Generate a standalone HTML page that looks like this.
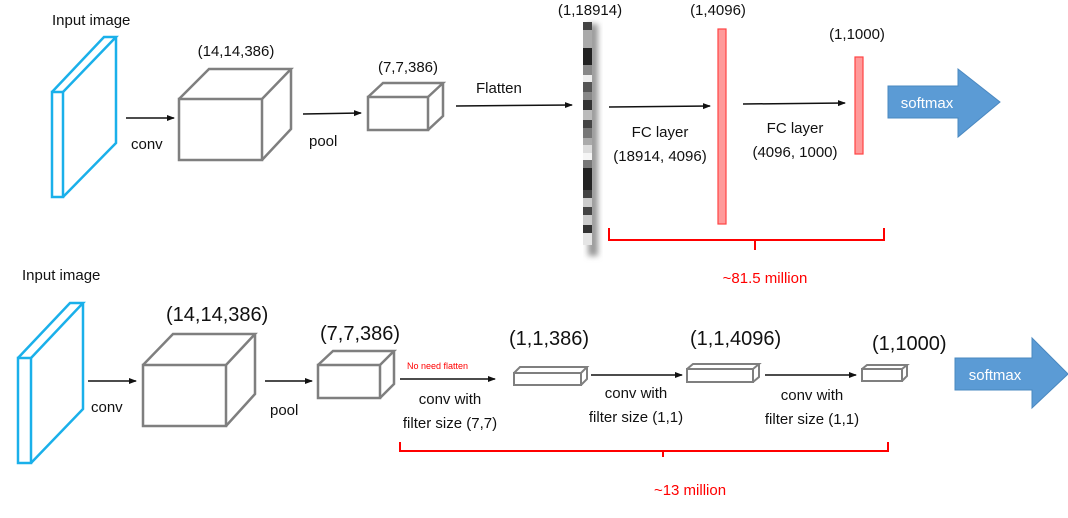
<!DOCTYPE html>
<html><head><meta charset="utf-8"><style>
html,body{margin:0;padding:0;background:#fff;}
svg{display:block;}
text{font-family:"Liberation Sans",sans-serif;fill:#111;}
</style></head><body>
<svg width="1068" height="518" viewBox="0 0 1068 518" xmlns="http://www.w3.org/2000/svg">
<defs>
<marker id="ah" markerWidth="8" markerHeight="8" refX="7" refY="4" orient="auto" markerUnits="userSpaceOnUse">
<path d="M0,1 L8,4 L0,7 z" fill="#111"/></marker>
<filter id="bl" x="-50%" y="-10%" width="200%" height="120%"><feGaussianBlur stdDeviation="3"/></filter>
</defs>

<!-- TOP ROW -->
<text x="52" y="25" font-size="15">Input image</text>
<g fill="none" stroke="#1ab0ea" stroke-width="2.5">
<rect x="52" y="92" width="11" height="105"/>
<path d="M52,92 L104,37 L116,37 L63,92 M116,37 L116,143 L63,197"/>
</g>
<line x1="126" y1="118" x2="174" y2="118" stroke="#111" stroke-width="1.5" marker-end="url(#ah)"/>
<text x="131" y="149" font-size="15">conv</text>
<g fill="none" stroke="#7f7f7f" stroke-width="2.5">
<rect x="179" y="99" width="83" height="61"/>
<path d="M179,99 L209,69 L291,69 L262,99 M291,69 L291,129 L262,160"/>
</g>
<text x="236" y="56" font-size="15" text-anchor="middle">(14,14,386)</text>
<line x1="303" y1="114" x2="361" y2="113" stroke="#111" stroke-width="1.5" marker-end="url(#ah)"/>
<text x="309" y="146" font-size="15">pool</text>
<g fill="none" stroke="#7f7f7f" stroke-width="2.5">
<rect x="368" y="97" width="60" height="33"/>
<path d="M368,97 L383,83 L443,83 L428,97 M443,83 L443,116 L428,130"/>
</g>
<text x="408" y="72" font-size="15" text-anchor="middle">(7,7,386)</text>
<text x="476" y="93" font-size="15">Flatten</text>
<line x1="456" y1="106" x2="572" y2="105" stroke="#111" stroke-width="1.5" marker-end="url(#ah)"/>

<!-- flatten strip -->
<rect x="588" y="24" width="10" height="232" fill="#999" filter="url(#bl)"/>
<g>
<rect x="583" y="22" width="9" height="8" fill="#444"/>
<rect x="583" y="30" width="9" height="18" fill="#aaa"/>
<rect x="583" y="48" width="9" height="17" fill="#222"/>
<rect x="583" y="65" width="9" height="10" fill="#888"/>
<rect x="583" y="75" width="9" height="7" fill="#eee"/>
<rect x="583" y="82" width="9" height="10" fill="#555"/>
<rect x="583" y="92" width="9" height="8" fill="#888"/>
<rect x="583" y="100" width="9" height="10" fill="#333"/>
<rect x="583" y="110" width="9" height="10" fill="#bbb"/>
<rect x="583" y="120" width="9" height="8" fill="#444"/>
<rect x="583" y="128" width="9" height="10" fill="#777"/>
<rect x="583" y="138" width="9" height="7" fill="#aaa"/>
<rect x="583" y="145" width="9" height="8" fill="#ddd"/>
<rect x="583" y="153" width="9" height="7" fill="#f5f5f5"/>
<rect x="583" y="160" width="9" height="8" fill="#777"/>
<rect x="583" y="168" width="9" height="22" fill="#222"/>
<rect x="583" y="190" width="9" height="8" fill="#444"/>
<rect x="583" y="198" width="9" height="9" fill="#ccc"/>
<rect x="583" y="207" width="9" height="8" fill="#444"/>
<rect x="583" y="215" width="9" height="10" fill="#ccc"/>
<rect x="583" y="225" width="9" height="8" fill="#333"/>
<rect x="583" y="233" width="9" height="12" fill="#e5e5e5"/>
</g>
<text x="590" y="15" font-size="15" text-anchor="middle">(1,18914)</text>

<line x1="609" y1="107" x2="710" y2="106" stroke="#111" stroke-width="1.5" marker-end="url(#ah)"/>
<text x="660" y="137" font-size="15" text-anchor="middle">FC layer</text>
<text x="660" y="161" font-size="15" text-anchor="middle">(18914, 4096)</text>
<rect x="718" y="29" width="8" height="195" fill="#ff9a9a" stroke="#f44" stroke-width="1.2"/>
<text x="718" y="15" font-size="15" text-anchor="middle">(1,4096)</text>

<line x1="743" y1="104" x2="845" y2="103" stroke="#111" stroke-width="1.5" marker-end="url(#ah)"/>
<text x="795" y="133" font-size="15" text-anchor="middle">FC layer</text>
<text x="795" y="157" font-size="15" text-anchor="middle">(4096, 1000)</text>
<rect x="855" y="57" width="8" height="97" fill="#ff9a9a" stroke="#f44" stroke-width="1.2"/>
<text x="857" y="39" font-size="15" text-anchor="middle">(1,1000)</text>

<path d="M888,86 L958,86 L958,69 L1000,102 L958,137 L958,118 L888,118 z" fill="#5b9bd5" stroke="#4a88c0" stroke-width="1"/>
<text x="927" y="108" font-size="15" text-anchor="middle" style="fill:#fff">softmax</text>

<path d="M609,228 L609,240 L884,240 L884,228 M755,240 L755,250" fill="none" stroke="#f00" stroke-width="2"/>
<text x="765" y="283" font-size="15" text-anchor="middle" style="fill:#f00">~81.5 million</text>

<!-- BOTTOM ROW -->
<text x="22" y="280" font-size="15">Input image</text>
<g fill="none" stroke="#1ab0ea" stroke-width="2.5">
<rect x="18" y="358" width="13" height="105"/>
<path d="M18,358 L70,303 L83,303 L31,358 M83,303 L83,409 L31,463"/>
</g>
<line x1="88" y1="381" x2="136" y2="381" stroke="#111" stroke-width="1.5" marker-end="url(#ah)"/>
<text x="91" y="412" font-size="15">conv</text>
<g fill="none" stroke="#7f7f7f" stroke-width="2.5">
<rect x="143" y="365" width="83" height="61"/>
<path d="M143,365 L173,334 L255,334 L226,365 M255,334 L255,394 L226,426"/>
</g>
<text x="166" y="321" font-size="20">(14,14,386)</text>
<line x1="265" y1="381" x2="312" y2="381" stroke="#111" stroke-width="1.5" marker-end="url(#ah)"/>
<text x="270" y="415" font-size="15">pool</text>
<g fill="none" stroke="#7f7f7f" stroke-width="2.5">
<rect x="318" y="365" width="62" height="33"/>
<path d="M318,365 L333,351 L394,351 L380,365 M394,351 L394,384 L380,398"/>
</g>
<text x="320" y="340" font-size="20">(7,7,386)</text>

<text x="407" y="369" font-size="9" style="fill:#f00">No need flatten</text>
<line x1="400" y1="379" x2="495" y2="379" stroke="#111" stroke-width="1.5" marker-end="url(#ah)"/>
<text x="450" y="404" font-size="15" text-anchor="middle">conv with</text>
<text x="450" y="428" font-size="15" text-anchor="middle">filter size (7,7)</text>

<g fill="none" stroke="#7f7f7f" stroke-width="2">
<rect x="514" y="373" width="67" height="12"/>
<path d="M514,373 L520,367 L587,367 L581,373 M587,367 L587,379 L581,385"/>
</g>
<text x="509" y="345" font-size="20">(1,1,386)</text>
<line x1="591" y1="375" x2="682" y2="375" stroke="#111" stroke-width="1.5" marker-end="url(#ah)"/>
<text x="636" y="398" font-size="15" text-anchor="middle">conv with</text>
<text x="636" y="422" font-size="15" text-anchor="middle">filter size (1,1)</text>

<g fill="none" stroke="#7f7f7f" stroke-width="2">
<rect x="687" y="369" width="66" height="13"/>
<path d="M687,369 L693,364 L759,364 L753,369 M759,364 L759,377 L753,382"/>
</g>
<text x="690" y="345" font-size="20">(1,1,4096)</text>
<line x1="765" y1="375" x2="856" y2="375" stroke="#111" stroke-width="1.5" marker-end="url(#ah)"/>
<text x="812" y="400" font-size="15" text-anchor="middle">conv with</text>
<text x="812" y="424" font-size="15" text-anchor="middle">filter size (1,1)</text>

<g fill="none" stroke="#7f7f7f" stroke-width="2">
<rect x="862" y="369" width="40" height="12"/>
<path d="M862,369 L867,365 L907,365 L902,369 M907,365 L907,376 L902,381"/>
</g>
<text x="872" y="350" font-size="20">(1,1000)</text>

<path d="M955,358 L1032,358 L1032,338 L1068,374 L1032,408 L1032,390 L955,390 z" fill="#5b9bd5" stroke="#4a88c0" stroke-width="1"/>
<text x="995" y="380" font-size="15" text-anchor="middle" style="fill:#fff">softmax</text>

<path d="M400,442 L400,451 L888,451 L888,442 M663,451 L663,457" fill="none" stroke="#f00" stroke-width="2"/>
<text x="690" y="495" font-size="15" text-anchor="middle" style="fill:#f00">~13 million</text>
</svg>
</body></html>
